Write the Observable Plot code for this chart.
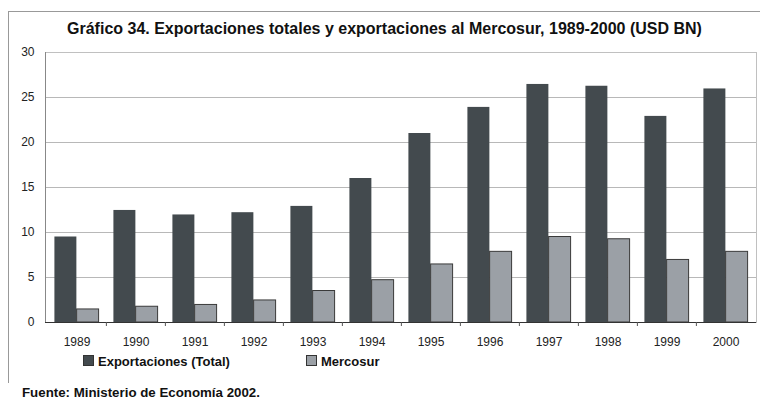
<!DOCTYPE html>
<html><head><meta charset="utf-8">
<script src="https://cdn.jsdelivr.net/npm/d3@7"></script>
<script src="https://cdn.jsdelivr.net/npm/@observablehq/plot@0.6"></script>
<style>
body{margin:0;background:#fff;font-family:Arial,"Liberation Sans",Helvetica,sans-serif;}
#wrap{position:relative;width:760px;height:400px;overflow:hidden;background:#fff;}
#box{position:absolute;left:8px;top:11px;width:800px;height:371px;border-left:1px solid #999;border-top:1px solid #999;}
#title{position:absolute;left:0;width:769px;top:20px;text-align:center;font-weight:bold;font-size:16px;color:#111;white-space:nowrap;}
#chart{position:absolute;left:0;top:40px;}
.leg{position:absolute;top:354px;font-weight:bold;font-size:13px;color:#111;white-space:nowrap;}
.sw{display:inline-block;width:9px;height:9px;border:1px solid #333;margin-right:4px;vertical-align:0px;}
#cap{position:absolute;left:22px;top:385px;font-weight:bold;font-size:13.3px;color:#111;white-space:nowrap;}
</style></head>
<body>
<div id="wrap">
<div id="box"></div>
<div id="title">Gráfico 34. Exportaciones totales y exportaciones al Mercosur, 1989-2000 (USD BN)</div>
<div id="chart"></div>
<div class="leg" style="left:83px"><span class="sw" style="background:#434a4e"></span>Exportaciones (Total)</div>
<div class="leg" style="left:306px"><span class="sw" style="background:#9ba0a6"></span>Mercosur</div>
<div id="cap">Fuente: Ministerio de Economía 2002.</div>
</div>
<script>
const years = ["1989","1990","1991","1992","1993","1994","1995","1996","1997","1998","1999","2000"];
const totalExports = [9.5, 12.45, 11.95, 12.2, 12.9, 16.0, 21.0, 23.9, 26.45, 26.25, 22.9, 25.95];
const mercosurExports = [1.45, 1.75, 1.95, 2.45, 3.5, 4.7, 6.45, 7.85, 9.5, 9.25, 6.95, 7.85];
const yTicks = [0, 5, 10, 15, 20, 25, 30];

const W = 760, ML = 45, MR = 4;
const step = (W - ML - MR) / years.length;
const outer = step * 0.125;
const half = (step - 2 * outer) / 2;

const totalData = years.map((y, i) => ({year: y, value: totalExports[i]}));
const mercData = years.map((y, i) => ({year: y, value: mercosurExports[i]}));

const chart = Plot.plot({
  width: W, height: 312,
  marginLeft: ML, marginRight: MR, marginTop: 12, marginBottom: 30,
  style: {fontFamily: "Arial, 'Liberation Sans', Helvetica, sans-serif", fontSize: "12px", color: "#222", background: "transparent"},
  x: {domain: years, padding: 0, label: null},
  y: {domain: [0, 30], label: null},
  marks: [
    Plot.gridY(yTicks, {stroke: "#b8b8b8", strokeOpacity: 1}),
    Plot.frame({stroke: "#c0c0c0"}),
    Plot.barY(totalData, {x: "year", y: "value", fill: "#434a4e", insetLeft: outer, insetRight: outer + half}),
    Plot.barY(mercData, {x: "year", y: "value", fill: "#9ba0a6", stroke: "#3a3a3a", strokeWidth: 1, insetLeft: outer + half, insetRight: outer}),
    Plot.frame({anchor: "left", stroke: "#888"}),
    Plot.ruleY([0], {stroke: "#333"}),
    Plot.ruleX(years.slice(1), {x: d => d, y1: 0, y2: 0, dx: -step / 2, insetBottom: -4, stroke: "#555"}),
    Plot.axisY(yTicks, {tickSize: 0, tickPadding: 11, fontSize: 12}),
    Plot.axisX({tickSize: 0, tickPadding: 15, fontSize: 12})
  ]
});
document.getElementById("chart").appendChild(chart);
</script>
</body></html>
